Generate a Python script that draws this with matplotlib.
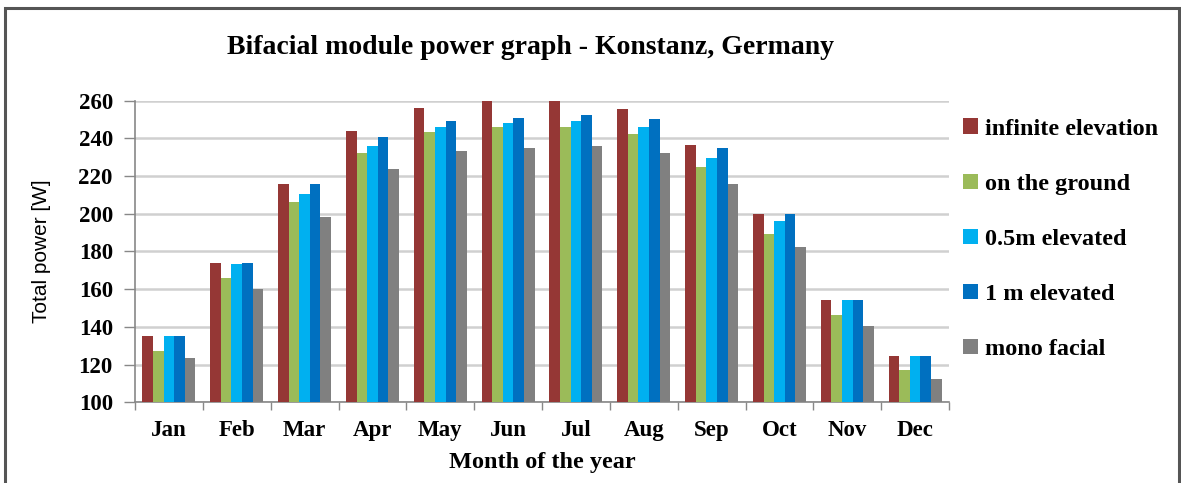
import numpy as np
import matplotlib.pyplot as plt
from matplotlib.patches import Rectangle

months = ['Jan', 'Feb', 'Mar', 'Apr', 'May', 'Jun', 'Jul', 'Aug', 'Sep', 'Oct', 'Nov', 'Dec']
infinite = [135, 174, 216, 244, 256, 259.6, 260, 255.6, 236.7, 199.7, 154.3, 124.4]
ground = [127.4, 165.8, 206, 232.4, 243.6, 246, 246.2, 242.3, 224.8, 189.3, 146.1, 117.1]
half_m = [135, 173.4, 210.7, 236, 246, 248.2, 249.2, 245.9, 229.4, 196.4, 154.3, 124.4]
one_m = [135, 174, 216, 240.6, 249.2, 251, 252.6, 250.1, 235.1, 199.7, 154.3, 124.4]
mono = [123.7, 160.3, 198.4, 223.9, 233.3, 235, 236, 232.4, 215.8, 182.4, 140.5, 112.5]

series = [infinite, ground, half_m, one_m, mono]
names = ['infinite elevation', 'on the ground', '0.5m elevated', '1 m elevated', 'mono facial']
colors = ['#953735', '#9BBB59', '#00B0F0', '#0070C0', '#808080']

serif = 'Liberation Serif'

fig = plt.figure(figsize=(11.81, 4.83), dpi=100)
ax = fig.add_axes([0.1143, 0.1671, 0.6893, 0.6244])

x = np.arange(len(months))
w = 1 / 6.4
for i, (vals, name, c) in enumerate(zip(series, names, colors)):
    ax.bar(x + (i - 2) * w, np.array(vals) - 100, w, bottom=100, color=c, label=name, zorder=3)

ax.set_xlim(-0.5, 11.5)
ax.set_ylim(100, 260)
ax.set_yticks(np.arange(100, 261, 20))
ax.grid(axis='y', color='#d0d0d0', lw=1.8, zorder=0)
ax.set_xticks(x)
ax.set_xticklabels(months)
ax.set_xticks(np.arange(-0.5, 12, 1), minor=True)
ax.tick_params(axis='x', which='major', length=0, pad=13)
ax.tick_params(axis='x', which='minor', length=6, color='#888888', width=1)
ax.tick_params(axis='y', length=8, color='#888888', width=1, pad=8)
for lab in ax.get_xticklabels():
    lab.set_fontfamily(serif)
    lab.set_fontweight('bold')
    lab.set_fontsize(16.5)
for lab in ax.get_yticklabels():
    lab.set_fontfamily(serif)
    lab.set_fontweight('bold')
    lab.set_fontsize(16.5)

for s in ['top', 'right']:
    ax.spines[s].set_visible(False)
ax.spines['left'].set_color('#888888')
ax.spines['bottom'].set_color('#888888')
ax.spines['left'].set_linewidth(1.2)
ax.spines['bottom'].set_linewidth(1.2)

ax.set_xlabel('Month of the year', family=serif, weight='bold', fontsize=17.5, labelpad=8)
ax.set_ylabel('Total power [W]', family='Liberation Sans', fontsize=15, labelpad=20)
fig.text(0.449, 0.902, 'Bifacial module power graph - Konstanz, Germany',
         family=serif, weight='bold', fontsize=20, ha='center', va='center')

fig.legend(loc='upper left', bbox_to_anchor=(0.797, 0.8), frameon=False,
           prop={'family': serif, 'weight': 'bold', 'size': 17.5},
           handlelength=0.6, handleheight=0.6, handletextpad=0.3, labelspacing=1.39)

fig.patches.append(Rectangle((0.004, -0.05), 0.994, 1.033, transform=fig.transFigure,
                             fill=False, edgecolor='#555555', lw=2.2))

fig.savefig('out.png', dpi=100)
